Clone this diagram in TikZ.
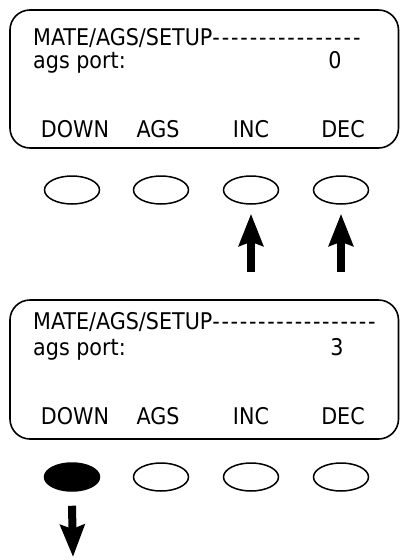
\documentclass[tikz,border=0pt]{standalone}
\usepackage{fontspec}
\setmainfont{DejaVu Sans Condensed}[Ligatures=TeXOff]
\usepackage{tikz}
\usetikzlibrary{arrows.meta, positioning, shapes.geometric}

% row of n dashes spread over a given width
\newcommand{\dashrow}[2]{\hbox to #2{\foreach \d in {2,...,#1}{-\hfil}-}}

\begin{document}
\begin{tikzpicture}[x=1pt, y=-1pt,
  panel/.style={draw, line width=1.6pt, rounded corners=20pt},
  txt/.style={font=\fontsize{23}{27}\selectfont, inner sep=0pt, anchor=base},
  txtl/.style={txt, anchor=base west},
  btn/.style={draw, ellipse, line width=1.5pt, minimum width=55pt,
              minimum height=28pt, inner sep=0pt},
  push/.style={-{Stealth[length=32pt, width=24pt, inset=4pt]}, line width=8pt}]

  \useasboundingbox (0,0) rectangle (400,560);

  % first screen: INC / DEC
  \draw[panel] (10,10) rectangle (398.5,148);
  \node[txtl] (title1) at (33,45)  {MATE/AGS/SETUP\dashrow{16}{148pt}};
  \node[txtl] (port1)  at (33,68)  {ags port:};
  \node[txt]  (val1)   at (335,68) {0};
  \node[txt]  (ldown1) at (75,137)  {DOWN};
  \node[txt]  (lags1)  at (158,137) {AGS};
  \node[txt]  (linc1)  at (251,137) {INC};
  \node[txt]  (ldec1)  at (343,137) {DEC};

  \node[btn] (down1) at (72,190)  {};
  \node[btn] (ags1)  at (161,190) {};
  \node[btn] (inc1)  at (251,190) {};
  \node[btn] (dec1)  at (341,190) {};

  \coordinate (incfoot) at (251,272);
  \coordinate (decfoot) at (341,272);
  \draw[push] (incfoot) -- ([yshift=-9pt]inc1.south);
  \draw[push] (decfoot) -- ([yshift=-9pt]dec1.south);

  % second screen: DOWN
  \draw[panel] (10,300) rectangle (398.5,439);
  \node[txtl] (title2) at (33,329)  {MATE/AGS/SETUP\dashrow{18}{163pt}};
  \node[txtl] (port2)  at (33,355)  {ags port:};
  \node[txt]  (val2)   at (337,355) {3};
  \node[txt]  (ldown2) at (75,424)  {DOWN};
  \node[txt]  (lags2)  at (158,424) {AGS};
  \node[txt]  (linc2)  at (251,424) {INC};
  \node[txt]  (ldec2)  at (343,424) {DEC};

  \node[btn, fill=black] (down2) at (72,477)  {};
  \node[btn]             (ags2)  at (161,477) {};
  \node[btn]             (inc2)  at (251,477) {};
  \node[btn]             (dec2)  at (341,477) {};

  \coordinate (downtip) at (73,557);
  \draw[push] ([yshift=-14pt]down2.south) -- (downtip);
\end{tikzpicture}
\end{document}
